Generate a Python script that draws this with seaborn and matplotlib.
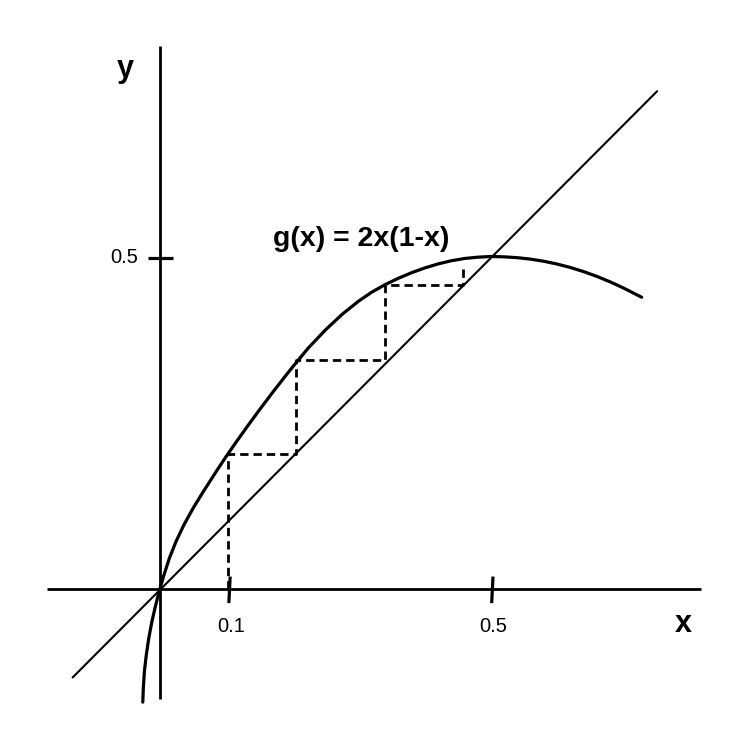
import matplotlib
matplotlib.use('Agg')
import matplotlib.pyplot as plt
import seaborn as sns

# curve g(x) (schematic, not the exact formula)
curve_x = [-0.0260, -0.0252, -0.0236, -0.0207, -0.0170, -0.0125, -0.0075, -0.0030, 0.0,
           0.0060, 0.0141, 0.0242, 0.0363, 0.0504, 0.0655, 0.0831, 0.1007, 0.1148,
           0.1319, 0.1511, 0.1712, 0.1913, 0.2065, 0.2241, 0.25, 0.275, 0.30, 0.32,
           0.34, 0.36, 0.38, 0.40, 0.42, 0.44, 0.46, 0.48, 0.50, 0.52, 0.54, 0.56,
           0.58, 0.60, 0.62, 0.64, 0.66, 0.68, 0.70, 0.7276]
curve_y = [-0.1711, -0.1500, -0.1250, -0.1000, -0.0750, -0.0510, -0.0290, -0.0110, 0.0,
           0.0204, 0.0455, 0.0708, 0.0962, 0.1216, 0.1461, 0.1734, 0.2000, 0.2202,
           0.2441, 0.2702, 0.2967, 0.3224, 0.3412, 0.3623, 0.3895, 0.4128, 0.4328, 0.4464,
           0.4576, 0.4672, 0.4756, 0.4828, 0.4888, 0.4936, 0.4970, 0.4990, 0.5000, 0.4995,
           0.4982, 0.4960, 0.4928, 0.4886, 0.4834, 0.4772, 0.4700, 0.4618, 0.4526, 0.4386]

# diagonal y = x
diag_x = [-0.132, 0.751]
diag_y = [-0.134, 0.749]

# cobweb iterations
x_iter = [0.103, 0.206, 0.340, 0.458]
g_iter = [0.202, 0.344, 0.457, 0.489]

# ticks
xtick_pos = [0.105, 0.502]
xtick_labels = ['0.1', '0.5']
ytick_pos = [0.498]
ytick_labels = ['0.5']

title = 'g(x) = 2x(1-x)'

sns.set_style('white')
plt.rcParams['font.family'] = ['Liberation Sans', 'DejaVu Sans']
plt.rcParams['text.color'] = 'black'

fig = plt.figure(figsize=(7.39, 7.46), dpi=100)
ax = fig.add_axes([0, 0, 1, 1])
ax.set_xlim(-0.2417, 0.8746)
ax.set_ylim(-0.2372, 0.8863)
ax.axis('off')

# axes lines
ax.plot([-0.170, 0.817], [0, 0], color='black', lw=2.0, solid_capstyle='butt')
ax.plot([0, 0], [-0.166, 0.817], color='black', lw=2.0, solid_capstyle='butt')

# cobweb path built from the iterations
path_x = [x_iter[0]]
path_y = [0.0]
for i in range(len(x_iter)):
    path_x.append(x_iter[i]); path_y.append(g_iter[i])
    if i + 1 < len(x_iter):
        path_x.append(x_iter[i + 1]); path_y.append(g_iter[i])
sns.lineplot(x=path_x, y=path_y, sort=False, estimator=None, color='black',
             lw=2.0, ax=ax)
ax.lines[-1].set_dashes((3.0, 1.8))

# diagonal
sns.lineplot(x=diag_x, y=diag_y, sort=False, estimator=None, color='black',
             lw=1.5, ax=ax)

# curve
sns.lineplot(x=curve_x, y=curve_y, sort=False, estimator=None, color='black',
             lw=2.3, ax=ax)
ax.lines[-1].set_solid_joinstyle('round')

# tick marks
for xp in xtick_pos:
    ax.plot([xp + 0.001, xp - 0.001], [0.018, -0.022], color='black', lw=2.3,
            solid_capstyle='butt')
for yp in ytick_pos:
    ax.plot([-0.018, 0.020], [yp, yp], color='black', lw=2.3, solid_capstyle='butt')

for xp, lab in zip(xtick_pos, xtick_labels):
    ax.text(xp + 0.002, -0.057, lab, ha='center', va='center', fontsize=14.5, color='black')
for yp, lab in zip(ytick_pos, ytick_labels):
    ax.text(-0.033, yp, lab, ha='right', va='center', fontsize=14.5, color='black')

ax.text(-0.053, 0.783, 'y', ha='center', va='center', fontsize=22,
        fontweight='bold', color='black')
ax.text(0.790, -0.053, 'x', ha='center', va='center', fontsize=22,
        fontweight='bold', color='black')
ax.text(0.304, 0.527, title, ha='center', va='center', fontsize=20.5,
        fontweight='bold', color='black')

fig.savefig('out.png', dpi=100)
